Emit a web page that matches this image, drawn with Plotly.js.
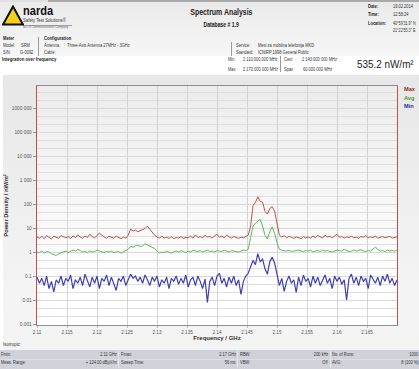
<!DOCTYPE html>
<html><head><meta charset="utf-8">
<script src="https://cdn.plot.ly/plotly-3.0.1.min.js"></script>
<style>
html,body{margin:0;padding:0}
body{width:419px;height:369px;overflow:hidden;background:#fff;font-family:"Liberation Sans",Arial,sans-serif;position:relative}
.t{position:absolute;white-space:nowrap;color:#333;line-height:1}
#hdr{position:absolute;left:0;top:2px;width:419px;height:54px;background:linear-gradient(#eaeaea,#f6f6f6)}
#panel{position:absolute;left:3px;top:75px;width:416px;height:275px;background:linear-gradient(#e7e7e7,#f4f4f4 80%,#f3f3f3)}
#plotbg{position:absolute;left:37px;top:86px;width:360px;height:239px;background:linear-gradient(#ececec,#ffffff 85%)}
#band{position:absolute;left:0;top:350px;width:419px;height:19px;background:#cfd2d8}
#plot{position:absolute;left:0;top:0;width:419px;height:369px}
.vs{position:absolute;width:1px;background:#9a9a9a}
</style></head><body>
<div style="position:absolute;left:0;top:0;width:419px;height:2px;background:#a9a9a9"></div>
<div style="position:absolute;left:0;top:0;width:48px;height:2px;background:#e0e0e0"></div>
<div id="hdr"></div>
<div id="panel"></div>
<div id="plotbg"></div>
<div id="band"></div>
<div style="position:absolute;left:0;top:358.5px;width:419px;height:1px;background:#dcdfe4"></div>
<div class="vs" style="left:118px;top:351px;height:17px;background:#e4e6ea"></div>
<div class="vs" style="left:237px;top:351px;height:17px;background:#e4e6ea"></div>
<div class="vs" style="left:330px;top:351px;height:17px;background:#e4e6ea"></div>
<div class="vs" style="left:38px;top:37px;height:19px"></div>
<div class="vs" style="left:231px;top:42px;height:14px"></div>
<div class="vs" style="left:280px;top:56px;height:16px"></div>
<div style="position:absolute;left:23px;top:24.5px;width:49px;height:1px;background:#9d9d9d"></div>

<svg style="position:absolute;left:2px;top:5px" width="22" height="21" viewBox="0 0 22 21">
<polygon points="11,1.5 21,19.5 1,19.5" fill="#f7d117" stroke="#111" stroke-width="2"/>
</svg>

<div id="plot"></div>
<div id="texts"></div>

<script>
// sweep: start frequency and step (GHz)
const fStart = 2.11;
const fStep = 0.0004;

const seriesNames = ["Max", "Avg", "Min"];

const maxValues = [
 4.2,3.8,4.5,3.6,4.8,4.0,3.5,4.6,4.1,3.7,
 4.9,4.3,3.9,4.4,3.6,4.7,4.0,5.2,4.2,3.8,
 4.6,4.1,5.5,4.4,3.9,4.8,6.2,5.0,4.3,3.7,
 4.5,4.0,3.8,4.6,4.2,3.6,4.1,3.8,5.0,
 9.0,7.5,8.2,7.0,7.8,8.5,9.5,12.0,9.0,6.5,
 5.0,4.2,3.8,4.5,3.9,4.1,3.7,4.3,3.6,4.0,
 3.8,4.4,3.7,4.1,3.9,4.6,3.8,5.2,4.0,4.4,
 3.9,5.0,4.2,4.5,3.8,4.7,5.5,4.1,4.6,3.9,
 5.1,4.3,3.8,4.4,4.0,3.7,4.2,3.9,4.5,5.0,
 12,85,115,200,130,120,50,38,65,78,50,14,5,
 4.2,4.8,3.9,4.5,4.1,3.7,4.3,4.0,3.6,4.4,
 3.9,4.2,3.8,4.6,4.0,4.9,4.3,3.8,5.1,4.2,
 4.5,3.9,4.7,5.4,4.1,4.4,3.8,4.3,4.0,4.6,
 3.9,4.2,3.7,4.5,4.1,4.8,3.9,4.3,4.0,4.6,
 3.8,4.2,4.4,3.9,4.1,4.5,3.8,4.2,4.3
];

const avgValues = [
 1.0,0.95,1.1,0.9,1.05,1.0,0.85,0.8,0.72,0.85,
 0.95,1.0,1.1,0.95,1.05,1.2,1.1,1.3,1.15,1.0,
 1.05,0.95,1.1,1.0,1.05,1.2,1.1,1.0,0.95,1.05,
 1.0,1.1,0.95,1.0,1.05,0.9,1.0,1.1,1.3,
 1.7,1.6,1.8,1.9,1.7,1.8,2.2,2.0,1.8,1.6,
 1.4,1.1,0.9,1.0,0.95,1.1,1.0,0.9,1.05,1.1,
 1.0,1.15,1.05,0.95,1.1,1.0,1.2,1.1,1.05,1.15,
 1.0,1.1,1.2,1.05,1.1,1.0,1.15,1.1,1.05,1.2,
 1.1,1.0,1.15,1.1,1.05,1.0,1.1,1.2,1.15,1.3,
 4,12,16,20,23,12,5,3.5,7,11,6,2.5,1.3,
 1.2,1.15,1.1,1.2,1.05,1.1,1.15,1.2,1.1,1.05,
 1.15,1.1,1.2,1.0,1.1,1.15,1.05,1.2,1.1,1.15,
 1.05,1.0,1.1,1.2,1.15,1.1,1.3,1.15,1.05,1.1,
 1.2,1.1,1.15,1.25,1.1,1.05,1.15,1.1,1.35,1.6,
 1.3,1.1,1.15,1.05,1.2,1.1,1.15,1.1,1.2
];

const minValues = [
 0.09,0.05,0.08,0.04,0.1,0.03,0.06,0.022,0.07,0.05,
 0.1,0.04,0.08,0.06,0.11,0.03,0.07,0.05,0.09,0.04,
 0.12,0.06,0.035,0.09,0.05,0.1,0.03,0.08,0.06,0.11,
 0.04,0.09,0.05,0.025,0.08,0.06,0.1,0.04,0.07,0.12,
 0.08,0.1,0.06,0.09,0.05,0.11,0.07,0.04,0.09,0.06,
 0.1,0.035,0.07,0.05,0.09,0.03,0.08,0.06,0.1,0.045,
 0.08,0.05,0.11,0.035,0.07,0.09,0.04,0.1,0.06,0.03,
 0.075,0.008,0.06,0.09,0.04,0.1,0.13,0.05,0.08,0.035,
 0.09,0.05,0.1,0.04,0.07,0.017,0.06,0.1,0.13,
 0.25,0.45,0.3,0.85,0.4,0.5,0.2,0.12,0.4,0.6,0.35,0.12,0.04,
 0.08,0.023,0.06,0.1,0.05,0.07,0.021,0.09,0.04,0.11,
 0.06,0.08,0.035,0.1,0.05,0.09,0.04,0.07,0.11,0.05,
 0.08,0.03,0.1,0.06,0.09,0.045,0.07,0.01,0.08,0.12,
 0.05,0.09,0.04,0.1,0.06,0.08,0.03,0.11,0.07,0.05,
 0.09,0.04,0.1,0.06,0.12,0.05,0.08,0.04,0.07
];

const xTickVals = [2.11,2.115,2.12,2.125,2.13,2.135,2.14,2.145,2.15,2.155,2.16,2.165];
const xTickText = ["2.11","2.115","2.12","2.125","2.13","2.135","2.14","2.145","2.15","2.155","2.16","2.165"];
const yTickVals = [0.001,0.01,0.1,1,10,100,1000,10000,100000,1000000];
const yTickText = ["0.001","0.01","0.1","1","10","100","1 000","10 000","100 000","1000 000"];

const lineColors = ["#bd5551", "#62b862", "#3f3fb0"];
const labelColors = ["#9e2a2a", "#3b9a3b", "#2b2b9c"];
const lineWidths = [1, 1, 1.2];
const allSeries = [maxValues, avgValues, minValues];

// report header / footer texts
// [x, centerY, text, size, bold, align, scaleX, color]
const SX = 0.8;
const headerTexts = [
  [23.3, 11.6, "narda", 13.5, true, "l", 0.82, "#111"],
  [23.3, 21.2, "Safety Test Solutions®", 5.2, false, "l", 0.82, "#333"],
  [23.3, 28.3, "an L3 Communications Company", 3.6, false, "l", 0.85, "#666"],
  [221, 12.7, "Spectrum Analysis", 9, true, "c", 0.77, "#222"],
  [221.5, 25.7, "Database # 1.9", 6.4, true, "c", 0.8, "#222"],
  [368, 6.3, "Date:", 5, true, "l", SX, "#222"],
  [393, 6.3, "19.02.2014", 5, false, "l", SX, "#333"],
  [368, 15.2, "Time:", 5, true, "l", SX, "#222"],
  [393, 15.2, "12:58:24", 5, false, "l", SX, "#333"],
  [368, 24, "Location:", 5, true, "l", SX, "#222"],
  [393, 24, "40°59'31.9\" N", 5, false, "l", 0.74, "#333"],
  [393, 30.3, "21°22'55.3\" E", 5, false, "l", 0.74, "#333"],
  [3, 39.3, "Meter", 5.2, true, "l", SX, "#222"],
  [3, 45.7, "Model:", 5, false, "l", SX, "#333"],
  [20.5, 45.7, "SRM", 5, false, "l", SX, "#333"],
  [3, 52.3, "S/N:", 5, false, "l", SX, "#333"],
  [20, 52.3, "G-0092", 5, false, "l", SX, "#333"],
  [44, 39.3, "Configuration", 5.2, true, "l", SX, "#222"],
  [44, 45.7, "Antenna:", 5, false, "l", SX, "#333"],
  [66.7, 45.7, "Three-Axis Antenna 27MHz - 3GHz", 5, false, "l", SX, "#333"],
  [44, 52.3, "Cable:", 5, false, "l", SX, "#333"],
  [236, 46, "Service:", 5, false, "l", SX, "#333"],
  [258, 46, "Mesi za mobilna telefonija MKD", 5, false, "l", SX, "#333"],
  [236, 52.5, "Standard:", 5, false, "l", SX, "#333"],
  [258, 52.5, "ICNIRP 1998 General Public", 5, false, "l", SX, "#333"],
  [2, 60, "Integration over frequency", 5.4, true, "l", SX, "#222"],
  [228, 60, "Min", 5, false, "l", SX, "#333"],
  [243, 60, "2 110.000 000 MHz", 5, false, "l", SX, "#333"],
  [228, 69.3, "Max", 5, false, "l", SX, "#333"],
  [243, 69.3, "2 170.000 000 MHz", 5, false, "l", SX, "#333"],
  [284, 60, "Cent", 5, false, "l", SX, "#333"],
  [301.7, 60, "2 140.000 000 MHz", 5, false, "l", SX, "#333"],
  [284, 69.3, "Span", 5, false, "l", SX, "#333"],
  [303, 69.3, "60.000 000 MHz", 5, false, "l", SX, "#333"],
  [357, 65, "535.2 nW/m²", 11, false, "l", 0.9, "#222"],
  [3, 345.3, "Isotropic", 5.6, false, "l", SX, "#333"],
  [1, 355, "Fmin:", 5, false, "l", SX, "#333"],
  [116.7, 355, "2.11 GHz", 5, false, "r", SX, "#333"],
  [121, 355, "Fmax:", 5, false, "l", SX, "#333"],
  [236, 355, "2.17 GHz", 5, false, "r", SX, "#333"],
  [240, 355, "RBW:", 5, false, "l", SX, "#333"],
  [328, 355, "200 kHz", 5, false, "r", SX, "#333"],
  [332, 355, "No. of Runs:", 5, false, "l", SX, "#333"],
  [418.5, 355, "1000", 5, false, "r", SX, "#333"],
  [1, 362.5, "Meas. Range:", 5, false, "l", SX, "#333"],
  [116.7, 362.5, "+ 124.00 dBµV/m", 5, false, "r", SX, "#333"],
  [121, 362.5, "Sweep Time:", 5, false, "l", SX, "#333"],
  [236, 362.5, "56 ms", 5, false, "r", SX, "#333"],
  [240, 362.5, "VBW:", 5, false, "l", SX, "#333"],
  [328, 362.5, "Off", 5, false, "r", SX, "#333"],
  [332, 362.5, "AVG:", 5, false, "l", SX, "#333"],
  [418.5, 362.5, "8 (100 %)", 5, false, "r", SX, "#333"]
];

const host = document.getElementById("texts");
headerTexts.forEach(([x, cy, str, size, bold, align, sx, color]) => {
  const d = document.createElement("div");
  d.className = "t";
  d.textContent = str;
  d.style.fontSize = size + "px";
  d.style.fontWeight = bold ? "bold" : "normal";
  d.style.color = color;
  d.style.top = (cy - size * 0.55) + "px";
  host.appendChild(d);
  const w = d.getBoundingClientRect().width;
  const origin = align === "l" ? "left" : align === "r" ? "right" : "center";
  let left = x;
  if (align === "r") left = x - w;
  if (align === "c") left = x - w / 2;
  d.style.left = left + "px";
  d.style.transformOrigin = origin + " center";
  d.style.transform = "scaleX(" + sx + ")";
});

// minor grid positions (thirds of a decade)
const minorGrid = [];
for (let k = -3; k <= 6; k++) { minorGrid.push(Math.pow(10, k + 1/3), Math.pow(10, k + 2/3)); }

const FONT = "Liberation Sans, Arial, sans-serif";

const traces = allSeries.map((vals, i) => ({
  type: "scatter", mode: "lines", name: seriesNames[i],
  x0: fStart, dx: fStep, y: vals,
  line: {color: lineColors[i], width: lineWidths[i]},
  hoverinfo: "skip"
})).reverse();

const annotations = seriesNames.map((n, i) => ({
  text: "<b>" + n + "</b>", xref: "paper", yref: "paper",
  x: 1.0135, y: 0.986 - i * 0.0345, xanchor: "left", yanchor: "middle",
  showarrow: false, font: {family: FONT, size: 5.6, color: labelColors[i]}
}));

const layout = {
  width: 419, height: 369,
  margin: {l: 37, r: 22, t: 86, b: 44},
  paper_bgcolor: "rgba(0,0,0,0)", plot_bgcolor: "rgba(0,0,0,0)",
  showlegend: false,
  font: {family: FONT, color: "#555"},
  xaxis: {
    range: [2.11, 2.17], tickvals: xTickVals, ticktext: xTickText,
    tickfont: {family: FONT, size: 4.6, color: "#555"},
    showgrid: true, gridcolor: "#d3d3d3", gridwidth: 1,
    showline: true, linecolor: "#8e8e8e", linewidth: 1, mirror: true,
    ticks: "outside", ticklen: 2, tickcolor: "#bbbbbb",
    zeroline: false,
    title: {text: "<b>Frequency / GHz</b>", font: {family: FONT, size: 6, color: "#333"}, standoff: 2}
  },
  yaxis: {
    type: "log", range: [-3.04, 6.917],
    tickvals: yTickVals, ticktext: yTickText,
    tickfont: {family: FONT, size: 4.8, color: "#555"},
    showgrid: true, gridcolor: "#d9d9d9", gridwidth: 1,
    minor: {tickvals: minorGrid, showgrid: true, gridcolor: "#dedede", gridwidth: 1, ticks: ""},
    showline: true, linecolor: "#c0504d", linewidth: 1.3, mirror: true,
    ticks: "outside", ticklen: 3, tickcolor: "#999999",
    zeroline: false,
    title: {text: "<b>Power Density / nW/m²</b>", font: {family: FONT, size: 5.8, color: "#333"}, standoff: 2}
  },
  annotations: annotations
};

Plotly.newPlot("plot", traces, layout, {staticPlot: true, displayModeBar: false});
</script>
</body></html>
